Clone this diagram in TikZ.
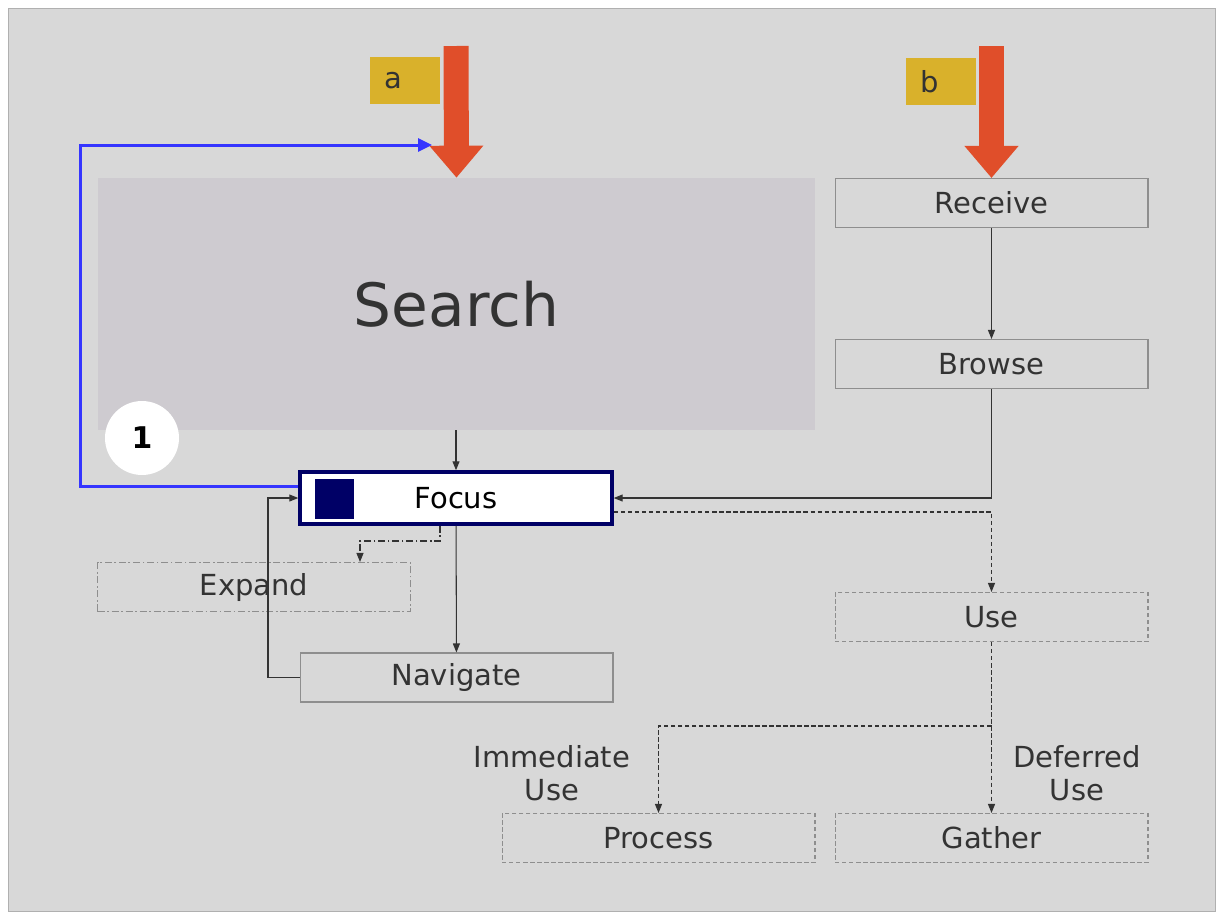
\documentclass[tikz,border=0pt]{standalone}
\usepackage{fontspec}
\setmainfont{DejaVu Sans}
\usetikzlibrary{positioning,arrows.meta}
\definecolor{bggray}{HTML}{D8D8D8}
\definecolor{framegray}{HTML}{B0B0B0}
\definecolor{boxgray}{HTML}{8E8E8E}
\definecolor{inkgray}{HTML}{333333}
\definecolor{searchfill}{HTML}{CECBD0}
\definecolor{arrowred}{HTML}{E04E2A}
\definecolor{tagyellow}{HTML}{D9B12B}
\definecolor{loopblue}{HTML}{3535FF}
\definecolor{focusnavy}{HTML}{000066}

\begin{document}
\begin{tikzpicture}[x=0.02cm, y=-0.02cm,
        box/.style={draw=boxgray, line width=0.6pt, minimum width=6.26cm, minimum height=0.98cm, inner sep=0pt, text=inkgray, font=\fontsize{16.5}{20}\selectfont},
        dashbox/.style={box, dash pattern=on 2.5pt off 1.5pt},
        dotbox/.style={box, dash pattern=on 4pt off 1.5pt on 1pt off 1.5pt},
        tag/.style={fill=tagyellow, text width=0.84cm, inner xsep=0.28cm, minimum height=0.94cm, align=left, text=inkgray, font=\fontsize{16.5}{20}\selectfont},
        note/.style={align=center, text=inkgray, font=\fontsize{16.5}{18.5}\selectfont},
        flow/.style={-{Triangle[width=0.14cm, length=0.18cm]}, draw=inkgray, line width=0.6pt},
        dashflow/.style={flow, dash pattern=on 2.5pt off 1.5pt},
        dotflow/.style={flow, dash pattern=on 4pt off 1.5pt on 1pt off 1.5pt},
        bigarrow/.style={-{Triangle[width=1.04cm, length=0.64cm]}, draw=arrowred, line width=0.5cm},
        backflow/.style={-{Triangle[width=0.26cm, length=0.28cm]}, draw=loopblue, line width=0.06cm}
    ]
        \useasboundingbox (0,0) rectangle (1220,913);
        \fill[bggray, draw=framegray] (8,8) rectangle (1215,911);

        \node[fill=searchfill, minimum width=14.34cm, minimum height=5.04cm, text=inkgray, font=\fontsize{34}{40}\selectfont] (search) at (456.5,304) {Search};
        \node[box] (receive) at (991.5,203) {Receive};
        \node[box] (browse) at (991.5,364) {Browse};
        \node[draw=focusnavy, fill=white, line width=0.07cm, minimum width=6.24cm, minimum height=1.04cm, inner sep=0pt, text=black, font=\fontsize{16.5}{20}\selectfont] (focus) at (456,498) {Focus};
        \node[fill=focusnavy, minimum width=0.78cm, minimum height=0.8cm, inner sep=0pt] (focusmark) at (334.5,499) {};
        \node[dotbox] (expand) at (254,587) {Expand};
        \node[box] (navigate) at (456.5,677.5) {Navigate};
        \node[dashbox] (use) at (991.5,617) {Use};
        \node[dashbox] (process) at (658.5,838) {Process};
        \node[dashbox] (gather) at (991.5,838) {Gather};
        \node[note] (immediate) at (552,773) {Immediate\\Use};
        \node[note] (deferred) at (1077,773) {Deferred\\Use};
        \node[circle, fill=white, minimum size=1.48cm, inner sep=0pt, font=\fontsize{17}{20}\selectfont\bfseries] (one) at (142,438) {1};
        \node[tag] (taga) at (405,80.5) {a};
        \node[tag] (tagb) at (941,81.5) {b};

        \coordinate (atop) at (456,46);
        \coordinate (btop) at (991.5,46);
        \coordinate (loop) at (80,145);
        \coordinate (aback) at (432,145);
        \coordinate (navturn) at (268,498);
        \coordinate (expturn) at (360,541);
        \coordinate (fork) at (991.5,726);

        \draw[bigarrow] (atop) -- (search.north);
        \draw[bigarrow] (btop) -- (receive.north);
        \draw[backflow] ([yshift=0.24cm]focus.west) -| (loop) -- (aback);
        \draw[flow] (receive) -- (browse);
        \draw[flow] (browse.south) |- (focus.east);
        \draw[flow] (search.south -| focus.north) -- (focus.north);
        \draw[flow] (focus) -- (navigate);
        \draw[flow] (navigate.west) -| (navturn) -- (focus.west);
        \draw[dotflow] ([xshift=-0.32cm]focus.south) |- (expturn) -- (expand.north -| expturn);
        \draw[dashflow] ([yshift=-0.28cm]focus.east) -| (use.north);
        \draw[dashflow] (use) -- (gather);
        \draw[dashflow] (fork) -| (process.north);
    \end{tikzpicture}
\end{document}
